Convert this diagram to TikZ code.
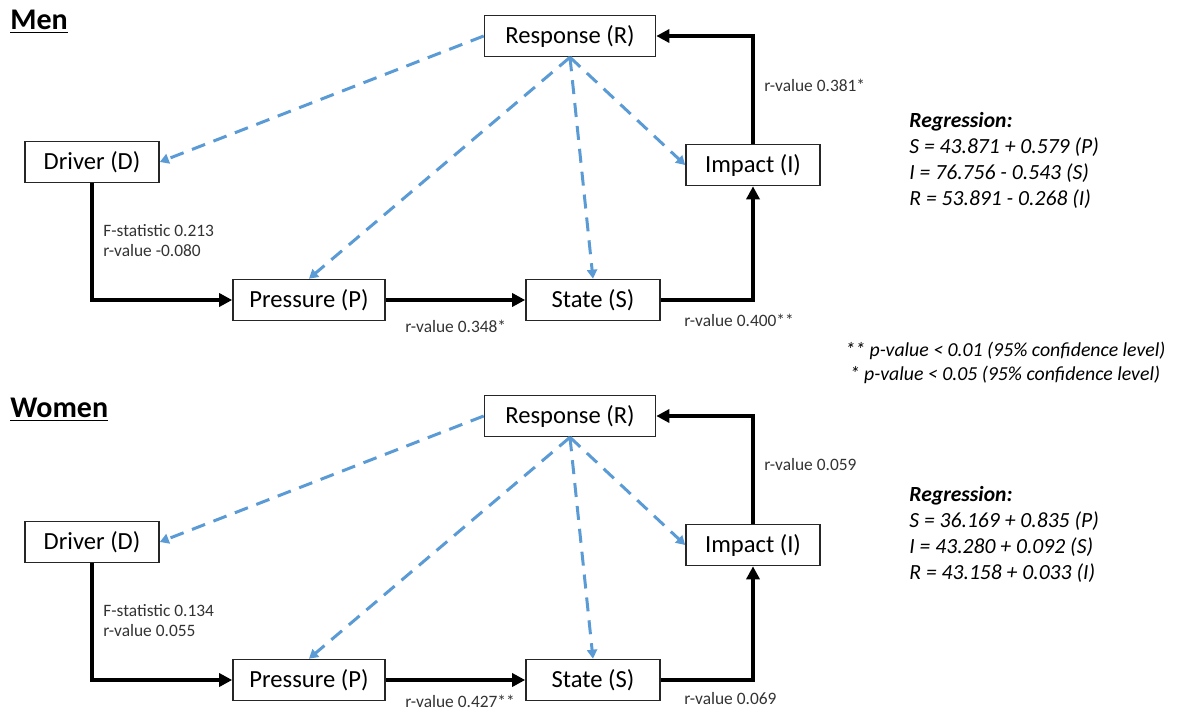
\documentclass[tikz,border=0pt]{standalone}
\usepackage{fontspec}
\setmainfont{Carlito}
\usetikzlibrary{arrows.meta}

\definecolor{dpsirblue}{RGB}{91,155,213}

\tikzset{
  box/.style={draw=black!85, line width=0.8pt, fill=white, minimum height=20.5pt,
    inner sep=0pt, font=\fontsize{12.3}{14}\selectfont},
  flow/.style={line width=2pt, -{Triangle[length=6.5pt,width=6.5pt]}},
  feedback/.style={dpsirblue, line width=1.5pt, dash pattern=on 7pt off 4.5pt,
    -{Triangle[length=4.5pt,width=5pt]}},
  stat/.style={text=black!80, font=\fontsize{8.7}{10}\selectfont, inner sep=0pt},
  heading/.style={anchor=west, inner sep=0pt, font=\fontsize{15}{17}\selectfont\bfseries},
  eqn/.style={anchor=north west, align=left, inner sep=0pt,
    font=\fontsize{10.8}{13}\selectfont\itshape}
}

\begin{document}
\begin{tikzpicture}[x=0.5pt, y=-0.5pt]
    \useasboundingbox (0,0) rectangle (1177,710);

    % Men
    \node[heading] (mtitle) at (10,22) {\underline{Men}};
    \node[box, minimum width=85.5pt] (mR) at (570,36) {Response (R)};
    \node[box, minimum width=67pt] (mD) at (92,162) {Driver (D)};
    \node[box, minimum width=67pt] (mI) at (753,165) {Impact (I)};
    \node[box, minimum width=76pt] (mP) at (309,300) {Pressure (P)};
    \node[box, minimum width=67pt] (mS) at (593,300) {State (S)};

    \draw[flow] (mD.south) |- (mP.west);
    \draw[flow] (mP) -- (mS);
    \draw[flow] (mS.east) -| (mI.south);
    \draw[flow] (mI.north) |- (mR.east);

    \draw[feedback] (mR.west) -- (mD.east);
    \draw[feedback] (mR.south) -- (mP.north);
    \draw[feedback] (mR.south) -- (mS.north);
    \draw[feedback] (mR.south) -- (mI.west);

    \node[stat, anchor=north west, align=left] (mDP) at (103,224) {F-statistic 0.213\\r-value -0.080};
    \node[stat, anchor=west] (mPS) at (405,326) {r-value 0.348*};
    \node[stat, anchor=west] (mSI) at (684,320) {r-value 0.400**};
    \node[stat, anchor=west] (mIR) at (764,85) {r-value 0.381*};

    \node[eqn] (mreg) at (909,112) {\textbf{Regression:}\\S = 43.871 + 0.579 (P)\\I = 76.756 - 0.543 (S)\\R = 53.891 - 0.268 (I)};

    % p-values
    \node[eqn, font=\fontsize{9.9}{12}\selectfont\itshape] (pnote) at (845,342)
      {** p-value < 0.01 (95\% confidence level)\\\ * p-value < 0.05 (95\% confidence level)};

    % Women
    \node[heading] (wtitle) at (10,410) {\underline{Women}};
    \node[box, minimum width=85.5pt] (wR) at (570,416) {Response (R)};
    \node[box, minimum width=67pt] (wD) at (92,542) {Driver (D)};
    \node[box, minimum width=67pt] (wI) at (753,545) {Impact (I)};
    \node[box, minimum width=76pt] (wP) at (309,680) {Pressure (P)};
    \node[box, minimum width=67pt] (wS) at (593,680) {State (S)};

    \draw[flow] (wD.south) |- (wP.west);
    \draw[flow] (wP) -- (wS);
    \draw[flow] (wS.east) -| (wI.south);
    \draw[flow] (wI.north) |- (wR.east);

    \draw[feedback] (wR.west) -- (wD.east);
    \draw[feedback] (wR.south) -- (wP.north);
    \draw[feedback] (wR.south) -- (wS.north);
    \draw[feedback] (wR.south) -- (wI.west);

    \node[stat, anchor=north west, align=left] (wDP) at (103,604) {F-statistic 0.134\\r-value 0.055};
    \node[stat, anchor=west] (wPS) at (405,701) {r-value 0.427**};
    \node[stat, anchor=west] (wSI) at (684,699) {r-value 0.069};
    \node[stat, anchor=west] (wIR) at (764,465) {r-value 0.059};

    \node[eqn] (wreg) at (909,486) {\textbf{Regression:}\\S = 36.169 + 0.835 (P)\\I = 43.280 + 0.092 (S)\\R = 43.158 + 0.033 (I)};
\end{tikzpicture}
\end{document}
